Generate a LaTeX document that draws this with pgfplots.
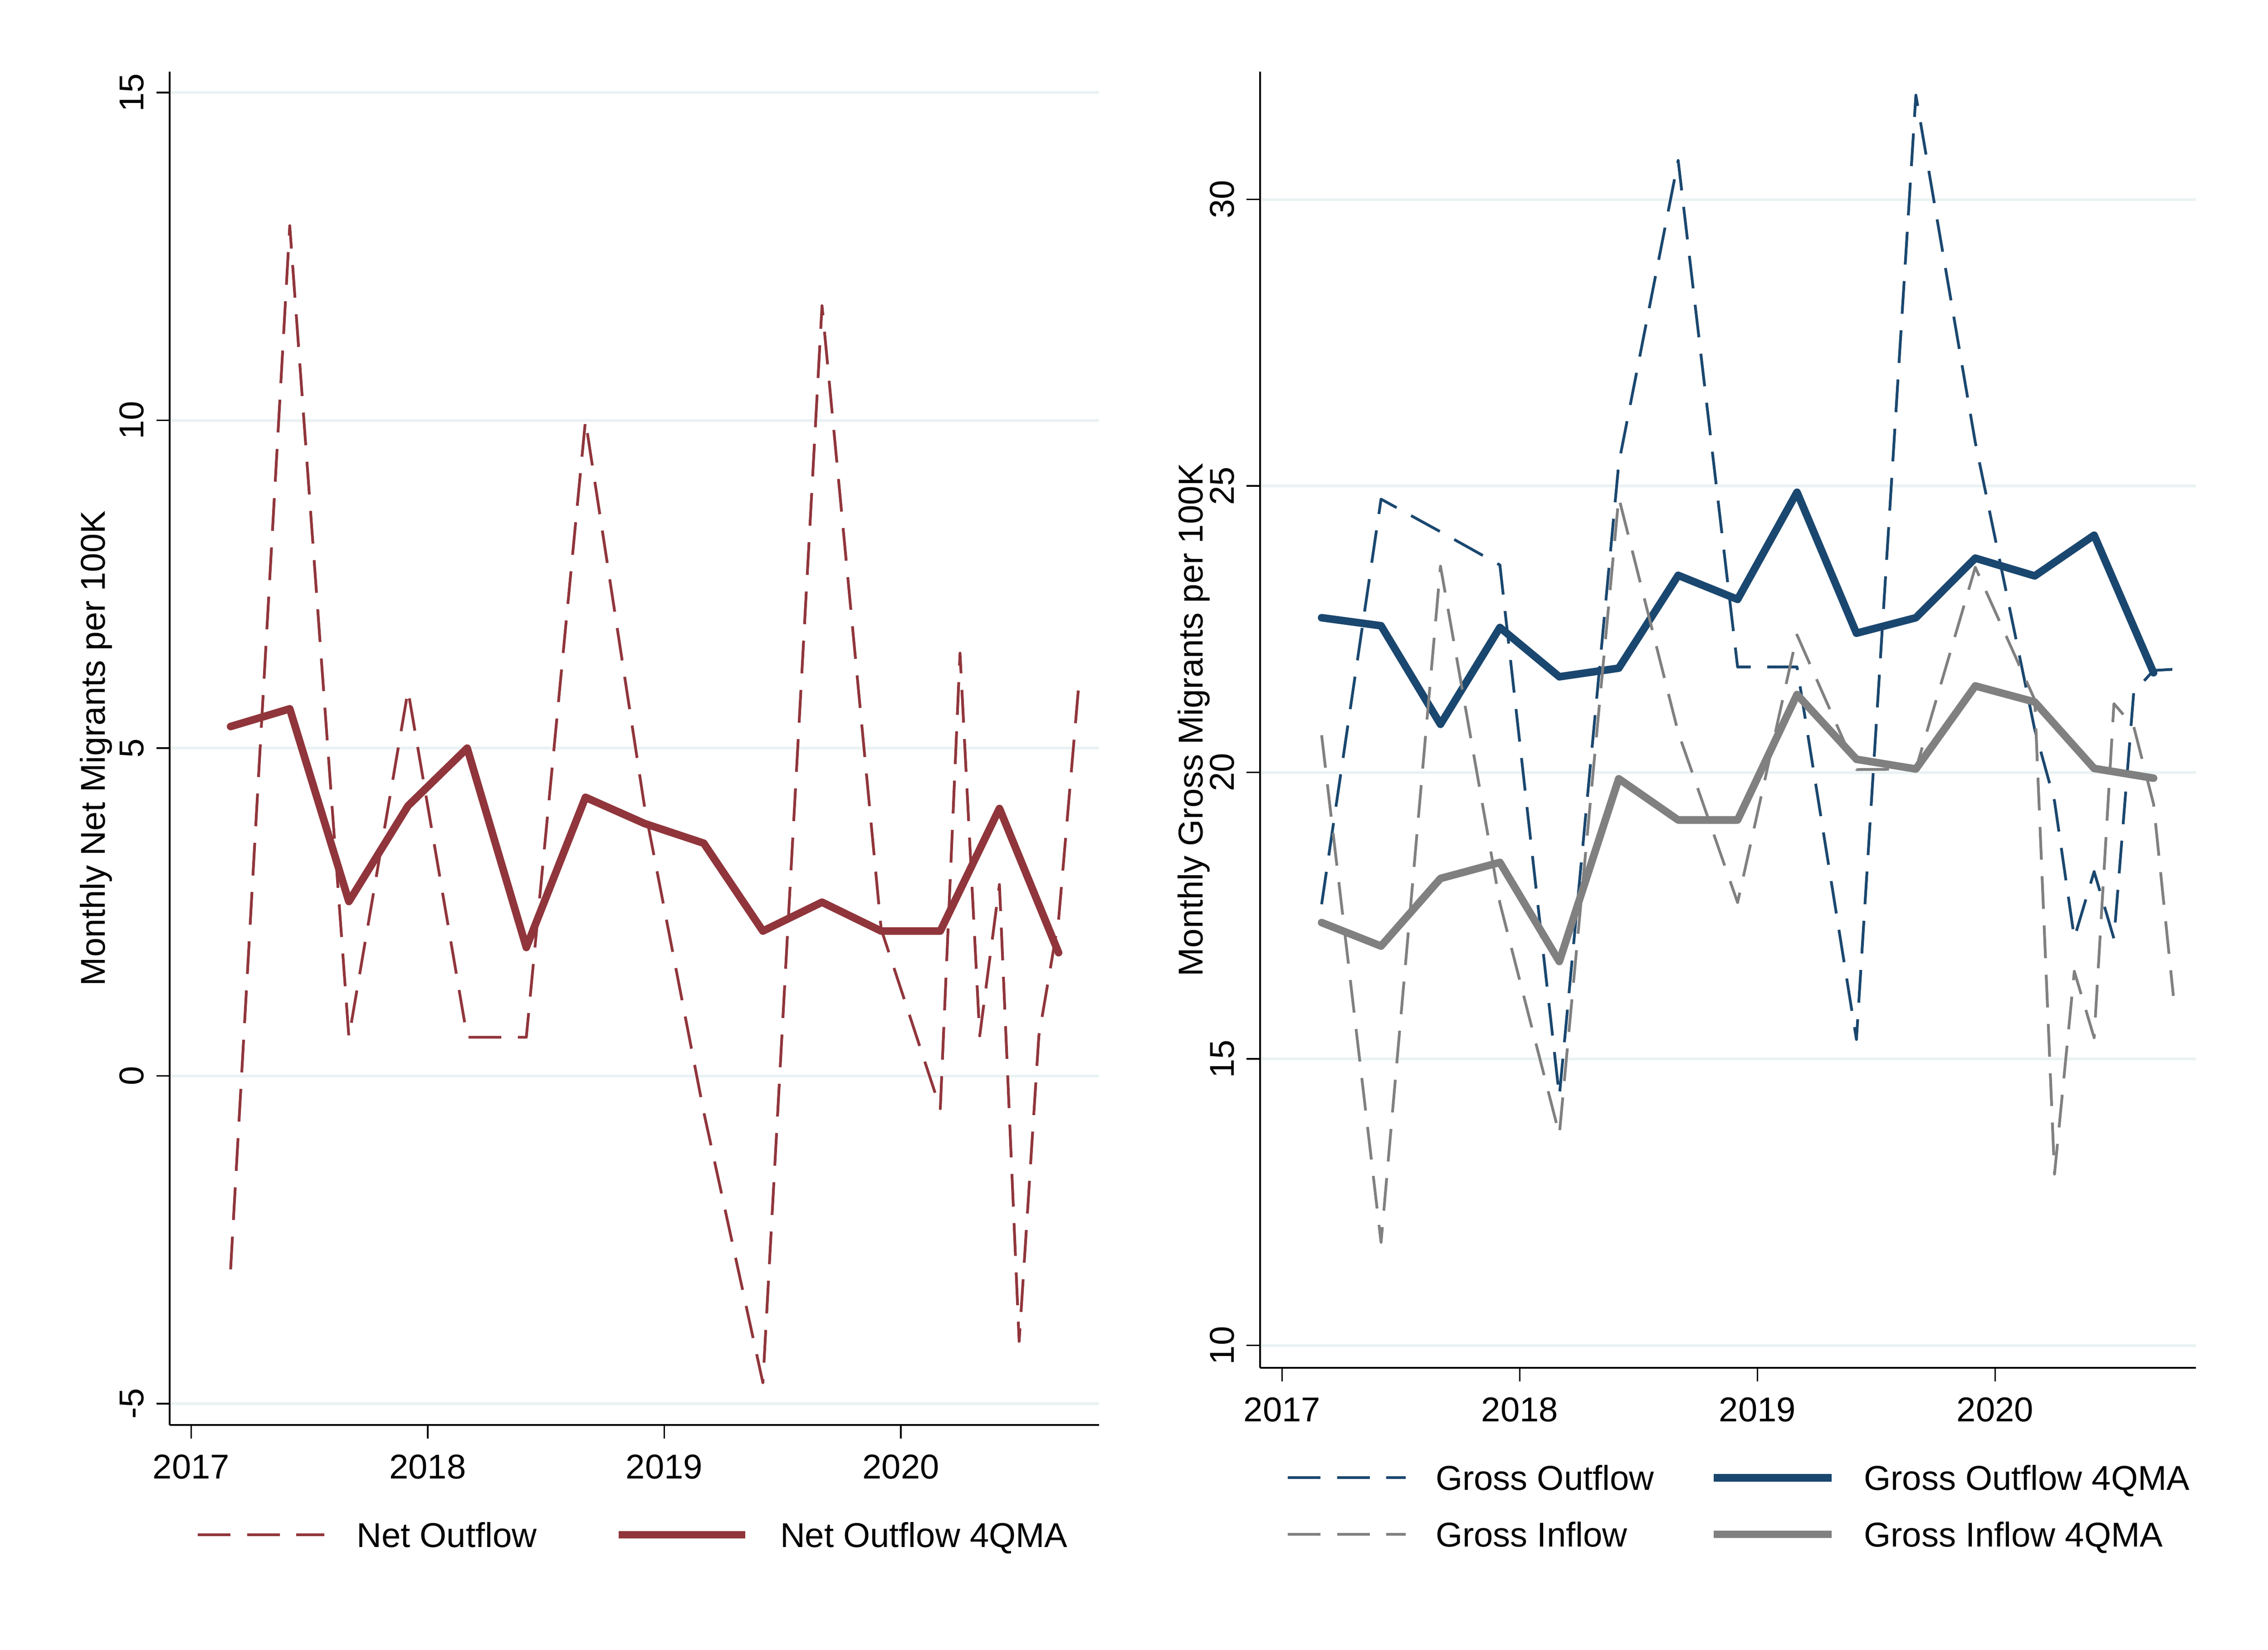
\documentclass[border=0pt]{standalone}
\usepackage{fontspec}
\setmainfont{Liberation Sans}
\usepackage{pgfplots}
\pgfplotsset{compat=1.18}
\definecolor{maroonS}{RGB}{144,53,59}
\definecolor{navyS}{RGB}{26,71,111}
\definecolor{grayS}{RGB}{128,128,128}
\definecolor{gridS}{RGB}{234,242,243}

\pgfplotsset{
 stataaxis/.style={
   scale only axis, anchor=south west,
   axis x line*=bottom, axis y line*=left,
   axis line style={-, line width=0.45pt, black},
   tick align=outside, major tick length=3.9pt,
   tick style={line width=0.45pt, black},
   xtick={2017,2018,2019,2020}, xticklabels={2017,2018,2019,2020},
   minor tick num=0,
   ymajorgrids, grid style={line width=0.8pt, gridS},
   xticklabel style={inner sep=0pt, anchor=base, yshift=-11.7pt},
   yticklabel style={inner sep=0pt, xshift=-3.7pt, rotate=90, anchor=base},
   legend columns=2, legend cell align=left,
   font=\fontsize{10}{12}\selectfont,
 },
 dashl/.style={line width=0.8pt, dash pattern=on 9.5pt off 4.8pt, line join=round},
 solidl/.style={line width=2.2pt, line join=round, line cap=round},
}

\begin{document}
\begin{tikzpicture}
\path[use as bounding box] (0,0) rectangle (657.89pt,478.42pt);

% ---------------- left panel ----------------
\begin{axis}[stataaxis,
  at={(49.21pt,65.13pt)}, width=269.61pt, height=392.5pt,
  xmin=2016.909, xmax=2020.838, ymin=-5.325, ymax=15.32,
  ytick={-5,0,5,10,15}, yticklabels={-5,0,5,10,15},
  ylabel={Monthly Net Migrants per 100K},
  every axis y label/.style={at={([xshift=-18.8pt]axis description cs:0,0.5)}, rotate=90, anchor=base, inner sep=0pt},
  legend image code/.code={\draw[#1, line cap=butt] (0pt,0pt) -- (36.7pt,0pt); \path (45.7pt,0pt);},
  legend style={draw=none, fill=none, inner sep=0pt, outer sep=0pt,
     at={(axis description cs:0.0288,-0.0811)}, anchor=west,
     column sep=0pt, /tikz/every even column/.append style={column sep=22.7pt},
     nodes={inner sep=0pt, text height=7.3pt, text depth=0pt},
     font=\fontsize{10}{12}\selectfont},
]
\addplot[dashl, maroonS] coordinates {
(2017.1667,-2.95) (2017.4167,12.97) (2017.6667,0.59) (2017.9167,5.88)
(2018.1667,0.59) (2018.4167,0.59) (2018.6667,10.0) (2018.9167,4.1)
(2019.1667,-0.55) (2019.4167,-4.68) (2019.6667,11.75) (2019.9167,2.24)
(2020.1667,-0.5) (2020.25,6.45) (2020.3333,0.61) (2020.4167,2.92)
(2020.5,-4.05) (2020.5833,0.61) (2020.6667,2.38) (2020.75,5.88)
};
\addlegendentry{Net Outflow}
\addplot[solidl, maroonS] coordinates {
(2017.1667,5.33) (2017.4167,5.6) (2017.6667,2.66) (2017.9167,4.12)
(2018.1667,5.0) (2018.4167,1.96) (2018.6667,4.25) (2018.9167,3.85)
(2019.1667,3.55) (2019.4167,2.21) (2019.6667,2.65) (2019.9167,2.21)
(2020.1667,2.21) (2020.4167,4.08) (2020.6667,1.88)
};
\addlegendentry{Net Outflow 4QMA}
\end{axis}

% ---------------- right panel ----------------
\begin{axis}[stataaxis,
  at={(365.53pt,81.71pt)}, width=271.45pt, height=375.92pt,
  xmin=2016.908, xmax=2020.845, ymin=9.61, ymax=32.23,
  ytick={10,15,20,25,30}, yticklabels={10,15,20,25,30},
  ylabel={Monthly Gross Migrants per 100K},
  every axis y label/.style={at={([xshift=-16.6pt]axis description cs:0,0.5)}, rotate=90, anchor=base, inner sep=0pt},
  legend image code/.code={\draw[#1, line cap=butt] (0pt,0pt) -- (34.2pt,0pt); \path (42.5pt,0pt);},
  legend style={draw=none, fill=none, inner sep=0pt, outer sep=0pt,
     at={(axis description cs:0.0281,-0.1066)}, anchor=west,
     column sep=0pt, row sep=9.1pt, /tikz/every even column/.append style={column sep=16.2pt},
     nodes={inner sep=0pt, text height=7.3pt, text depth=0pt},
     font=\fontsize{10}{12}\selectfont},
]
\addplot[dashl, navyS] coordinates {
(2017.1667,17.7) (2017.4167,24.77) (2017.6667,24.2) (2017.9167,23.62)
(2018.1667,14.35) (2018.4167,25.39) (2018.6667,30.68) (2018.9167,21.84)
(2019.1667,21.84) (2019.4167,15.34) (2019.6667,31.82) (2019.9167,25.76)
(2020.1667,20.75) (2020.25,19.5) (2020.3333,17.11) (2020.4167,18.27)
(2020.5,17.1) (2020.5833,21.4) (2020.6667,21.78) (2020.75,21.8)
};
\addlegendentry{Gross Outflow}
\addplot[solidl, navyS] coordinates {
(2017.1667,22.7) (2017.4167,22.56) (2017.6667,20.84) (2017.9167,22.53)
(2018.1667,21.67) (2018.4167,21.82) (2018.6667,23.44) (2018.9167,23.02)
(2019.1667,24.89) (2019.4167,22.43) (2019.6667,22.7) (2019.9167,23.74)
(2020.1667,23.43) (2020.4167,24.14) (2020.6667,21.74)
};
\addlegendentry{Gross Outflow 4QMA}
\addplot[dashl, grayS] coordinates {
(2017.1667,20.65) (2017.4167,11.8) (2017.6667,23.6) (2017.9167,17.72)
(2018.1667,13.68) (2018.4167,24.8) (2018.6667,20.7) (2018.9167,17.73)
(2019.1667,22.4) (2019.4167,20.05) (2019.6667,20.06) (2019.9167,23.58)
(2020.1667,21.27) (2020.25,12.99) (2020.3333,16.53) (2020.4167,15.37)
(2020.5,21.2) (2020.5833,20.8) (2020.6667,19.45) (2020.75,16.1)
};
\addlegendentry{Gross Inflow}
\addplot[solidl, grayS] coordinates {
(2017.1667,17.38) (2017.4167,16.97) (2017.6667,18.15) (2017.9167,18.43)
(2018.1667,16.7) (2018.4167,19.89) (2018.6667,19.17) (2018.9167,19.17)
(2019.1667,21.36) (2019.4167,20.23) (2019.6667,20.06) (2019.9167,21.51)
(2020.1667,21.23) (2020.4167,20.07) (2020.6667,19.9)
};
\addlegendentry{Gross Inflow 4QMA}
\end{axis}
\end{tikzpicture}
\end{document}
